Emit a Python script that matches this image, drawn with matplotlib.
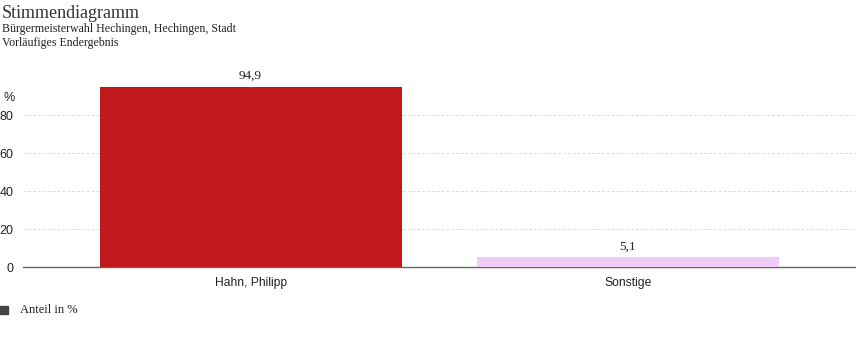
import matplotlib.pyplot as plt

# data
candidates = ['Hahn, Philipp', 'Sonstige']
shares = [94.9, 5.1]
share_labels = ['94,9', '5,1']
bar_colors = ['#C0191B', '#F0CDF8']
yticks = [0, 20, 40, 60, 80]

W, H = 856, 352
fig = plt.figure(figsize=(W / 100, H / 100), dpi=100)
ax = fig.add_axes([23 / W, (H - 267) / H, 833 / W, 190 / H])

x = list(range(len(candidates)))
ax.bar(x, shares, width=0.8, color=bar_colors, zorder=3)
for xi, v, lab in zip(x, shares, share_labels):
    ax.annotate(lab, (xi, v), xytext=(0, 3.5), textcoords='offset points',
                ha='center', va='bottom', family='Liberation Serif',
                fontsize=9.5, color='#222222')

ax.set_xlim(-0.603, 1.604)
ax.set_ylim(0, 100)
ax.set_yticks(yticks)
ax.set_yticklabels([str(t) for t in yticks], family='Liberation Sans',
                   fontsize=9, color='#222222')
ax.set_xticks(x)
ax.set_xticklabels(candidates, family='Liberation Sans', fontsize=8.7,
                   color='#222222')
ax.tick_params(axis='y', length=0, pad=7)
ax.tick_params(axis='x', length=0, pad=7)
ax.grid(axis='y', color='#dddddd', linestyle=(0, (3, 2)), linewidth=0.7,
        zorder=0)
ax.set_axisbelow(True)
for s in ['top', 'right', 'left']:
    ax.spines[s].set_visible(False)
ax.spines['bottom'].set_color('#666666')
ax.spines['bottom'].set_linewidth(1.0)

# titles
fig.text(2 / W, 1 - 14 / H, 'Stimmendiagramm', family='Liberation Serif',
         fontsize=13, color='#333333', va='center')
fig.text(2 / W, 1 - 29 / H, 'Bürgermeisterwahl Hechingen, Hechingen, Stadt',
         family='Liberation Serif', fontsize=8.6, color='#222222', va='center')
fig.text(2 / W, 1 - 43 / H, 'Vorläufiges Endergebnis',
         family='Liberation Serif', fontsize=8.6, color='#222222', va='center')
fig.text(3 / W, 1 - 98 / H, '%', family='Liberation Sans', fontsize=9,
         color='#222222', va='center')

# legend
fig.patches.append(plt.Rectangle((0, 1 - 314 / H), 8 / W, 8 / H,
                                 transform=fig.transFigure,
                                 color='#444444'))
fig.text(20 / W, 1 - 310 / H, 'Anteil in %', family='Liberation Serif',
         fontsize=9, color='#222222', va='center')

fig.savefig('out.png', dpi=100)
